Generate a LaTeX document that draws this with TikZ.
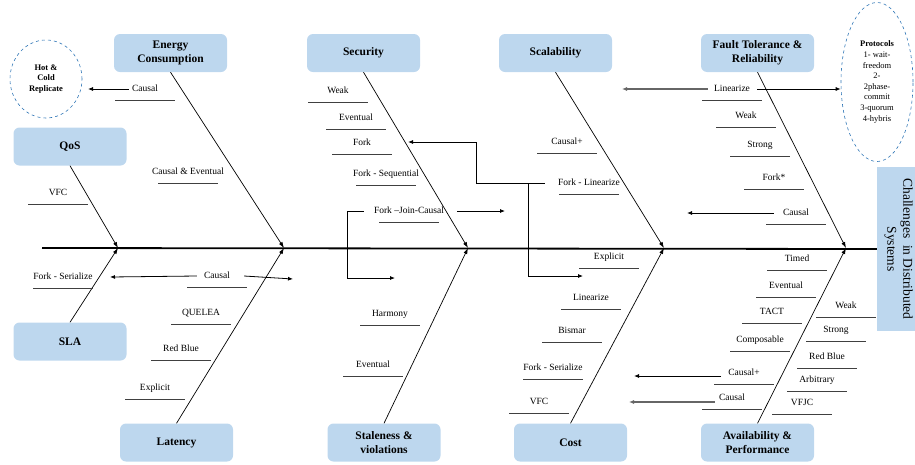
\documentclass[tikz,border=0pt]{standalone}
\usepackage{fontspec}
\setmainfont{Liberation Serif}
\usetikzlibrary{arrows.meta,shapes.geometric,calc}
\definecolor{boxblue}{RGB}{189,215,238}
\definecolor{dashblue}{RGB}{46,117,182}
\tikzset{
 cat/.style={fill=boxblue, rounded corners=6pt, minimum width=113pt, minimum height=38pt,
   font=\fontsize{11.5}{14}\selectfont\bfseries, align=center, inner sep=2pt},
 lbl/.style={font=\fontsize{9.5}{11}\selectfont, inner sep=0pt, text height=7pt, text depth=2pt},
 uline/.style={line width=0.6pt, black!75},
 bone/.style={line width=0.7pt, -{Latex[length=6pt,width=4pt]}},
 arr/.style={line width=0.8pt, -{Latex[length=5pt,width=4pt]}},
 garr/.style={line width=1.2pt, black!60, -{Latex[length=5pt,width=4pt]}},
 spine/.style={line width=1.8pt},
 note/.style={ellipse, draw=dashblue, dashed, line width=0.6pt, inner sep=0pt, align=center,
   font=\fontsize{8.5}{10.6}\selectfont},
 chalbox/.style={fill=boxblue, rotate=-90, minimum width=164pt, minimum height=43pt, align=center,
   font=\fontsize{13.5}{16}\selectfont, inner sep=0pt},
}
\newcommand{\fblab}[4]{\node[lbl] (#1) at (#2,#3) {#4};
 \draw[uline] ([xshift=-30pt,yshift=-11pt]#1.center) -- ([xshift=30pt,yshift=-11pt]#1.center);}
\begin{document}
\begin{tikzpicture}[x=1pt,y=-1pt]
\useasboundingbox (0,0) rectangle (915,464);
\clip (0,0) rectangle (915,464);

% category boxes
\node[cat] (energy) at (170.5,53) {Energy\\Consumption};
\node[cat] (security) at (363.5,53) {Security};
\node[cat] (scal) at (555.5,53) {Scalability};
\node[cat] (fault) at (757.5,53) {Fault Tolerance \&\\Reliability};
\node[cat] (qos) at (70,146.5) {QoS};
\node[cat] (sla) at (70,341.5) {SLA};
\node[cat] (latency) at (176.5,442.5) {Latency};
\node[cat] (stale) at (384,442.5) {Staleness \&\\violations};
\node[cat] (cost) at (570.5,442.5) {Cost};
\node[cat] (avail) at (757.5,442.5) {Availability \&\\Performance};

% head box
\node[chalbox] (chal) at (898.5,249) {Challenges\ \ in Distributed\\Systems};

% ellipses
\node[note, minimum width=72pt, minimum height=78pt, font=\fontsize{8.5}{10.6}\selectfont\bfseries] (hc) at (46,79) {Hot \&\\Cold\\Replicate};
\node[note, minimum width=72pt, minimum height=159pt] (proto) at (877,82) {\textbf{Protocols}\\1- wait-\\freedom\\2-\\2phase-\\commit\\3-quorum\\4-hybris};

% spine
\coordinate (spl) at (42,248);
\coordinate (s1) at (118,248);
\coordinate (s2) at (284,248);
\coordinate (s3) at (468,248);
\coordinate (s4) at (664,248);
\coordinate (s5) at (846,248);
\draw[spine] (spl) -- (chal.south);

% bones
\draw[bone] (energy.south) -- (s2);
\draw[bone] (qos.south) -- (s1);
\draw[bone] (security.south) -- (s3);
\draw[bone] (scal.south) -- (s4);
\draw[bone] (fault.south) -- (s5);
\draw[bone] (sla.north) -- (s1);
\draw[bone] (latency.north) -- (s2);
\draw[bone] (stale.north) -- (s3);
\draw[bone] (cost.north) -- (s4);
\draw[bone] (avail.north) -- (s5);

% labels
\fblab{ec}{145}{89}{Causal}
\fblab{ece}{188}{172}{Causal \& Eventual}
\fblab{qvfc}{58}{193}{VFC}
\fblab{sw}{338}{91}{Weak}
\fblab{se}{356}{118}{Eventual}
\fblab{sf}{362}{143}{Fork}
\fblab{sfs}{386}{174}{Fork - Sequential}
\fblab{sfj}{409}{211}{Fork \textendash Join-Causal}
\fblab{cc}{567}{142}{Causal+}
\fblab{cfl}{589}{183}{Fork - Linearize}
\fblab{fl}{732}{89}{Linearize}
\fblab{fw}{746}{116}{Weak}
\fblab{fs}{760}{145}{Strong}
\fblab{ff}{774}{178}{Fork*}
\fblab{fc}{796}{213}{Causal}
\fblab{lfs}{63}{277}{Fork - Serialize}
\fblab{lc}{217}{276}{Causal}
\fblab{lq}{201}{313}{QUELEA}
\fblab{lrb}{181}{349}{Red Blue}
\fblab{le}{155}{388}{Explicit}
\fblab{sh}{390}{314}{Harmony}
\fblab{sev}{373}{365}{Eventual}
\fblab{ce}{609}{257}{Explicit}
\fblab{cl}{591}{298}{Linearize}
\fblab{cb}{572}{331}{Bismar}
\fblab{cfs}{553}{368}{Fork - Serialize}
\fblab{cv}{539}{402}{VFC}
\fblab{at}{797}{259}{Timed}
\fblab{aev}{786}{286}{Eventual}
\fblab{atact}{772}{312}{TACT}
\fblab{acomp}{760}{340}{Composable}
\fblab{acp}{744}{373}{Causal+}
\fblab{ac}{732}{398}{Causal}
\fblab{aw}{846}{306}{Weak}
\fblab{as}{836}{330}{Strong}
\fblab{arb}{827}{357}{Red Blue}
\fblab{aarb}{817}{380}{Arbitrary}
\fblab{avfjc}{802}{403}{VFJC}

% arrow end coordinates
\coordinate (t1) at (88,89);
\coordinate (t2) at (622,89);
\coordinate (t4) at (687,213);
\coordinate (t5) at (505,211);
\coordinate (b1) at (347,211);
\coordinate (t6) at (395,278);
\coordinate (b2) at (476,183);
\coordinate (t7) at (408,142);
\coordinate (b3) at (528,183);
\coordinate (t8) at (583,276);
\coordinate (t9) at (110,277);
\coordinate (t10) at (293,279);
\coordinate (t11) at (634,376);
\coordinate (t12) at (629,402);

% arrows
\draw[arr] ([xshift=-3pt]ec.west) -- (t1);
\draw[garr] ([xshift=-6pt]fl.west) -- (t2);
\draw[arr] ([xshift=7pt]fl.east) -- (fl.east -| proto.west);
\draw[arr] ([xshift=-9pt]fc.west) -- (t4);
\draw[arr] ([xshift=13pt]sfj.east) -- (t5);
\draw[arr] ([xshift=-10pt]sfj.west) -- (b1) |- (t6);
\draw[arr] ([xshift=-13pt]cfl.west) -- (b2) |- (t7);
\draw[arr] (b3) |- (t8);
\draw[arr] ([xshift=-7pt]lc.west) -- (t9);
\draw[arr] ([xshift=14pt]lc.east) -- (t10);
\draw[arr] ([xshift=-7pt,yshift=-3pt]acp.west) -- (t11);
\draw[garr] ([xshift=-4pt,yshift=-4pt]ac.west) -- (t12);
\end{tikzpicture}
\end{document}
